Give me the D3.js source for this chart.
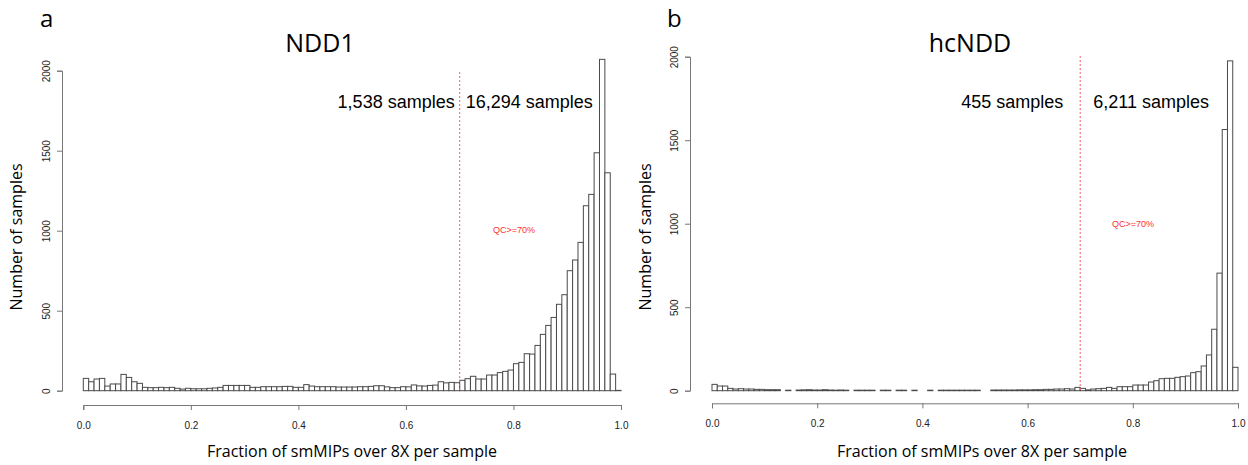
<!DOCTYPE html>
<html>
<head>
<meta charset="utf-8">
<script src="https://cdn.jsdelivr.net/npm/d3@7"></script>
<style>
  body { margin: 0; background: #fff; }
  svg { display: block; }
</style>
</head>
<body>
<svg id="chart" width="1248" height="465"></svg>
<script>
// histogram bins: 100 bins of width 0.01 from 0 to 1
var binEdges = d3.range(0, 100).map(function (i) { return i / 100; });

// panel a - NDD1 counts per bin
var ndd1Counts = [
  77, 56, 73, 77, 29, 42, 42, 102, 83, 56,
  46, 21, 19, 19, 21, 19, 21, 15, 10, 15,
  12, 12, 12, 15, 17, 21, 33, 33, 33, 33,
  33, 21, 21, 25, 25, 25, 25, 27, 27, 21,
  21, 38, 29, 25, 25, 25, 25, 23, 23, 23,
  23, 25, 25, 27, 31, 31, 24, 19, 19, 25,
  24, 36, 30, 29, 33, 35, 56, 49, 52, 50,
  65, 75, 90, 73, 73, 98, 98, 113, 121, 129,
  169, 177, 231, 229, 283, 352, 408, 458, 540, 600,
  750, 817, 927, 1156, 1227, 1487, 2071, 1362, 104, 2
];

// panel b - hcNDD counts per bin
var hcnddCounts = [
  38, 28, 28, 14, 10, 12, 10, 10, 8, 8,
  6, 6, 6, 0, 3, 0, 4, 5, 6, 4,
  4, 6, 4, 3, 4, 3, 0, 3, 3, 3,
  3, 0, 3, 3, 0, 3, 3, 0, 3, 0,
  0, 3, 0, 3, 3, 3, 3, 3, 3, 3,
  3, 0, 0, 4, 4, 4, 4, 4, 5, 5,
  5, 6, 6, 8, 8, 10, 10, 12, 10, 20,
  14, 5, 10, 12, 14, 20, 14, 24, 24, 24,
  34, 34, 34, 52, 60, 72, 74, 74, 80, 84,
  88, 108, 114, 148, 214, 368, 704, 1564, 1975, 140
];

var xTicks = [0, 0.2, 0.4, 0.6, 0.8, 1.0];
var yTicks = [0, 500, 1000, 1500, 2000];
var qcCut = 0.7;
var panelTitles = ["NDD1", "hcNDD"];
var panelLetters = ["a", "b"];
var belowLabels = ["1,538 samples", "455 samples"];
var aboveLabels = ["16,294 samples", "6,211 samples"];

var svg = d3.select("#chart");

var titleFont = "'Open Sans', 'DejaVu Sans', sans-serif";
var arialFont = "'Liberation Sans', Arial, sans-serif";
var tickFont = "'Liberation Sans Narrow', 'Liberation Sans', sans-serif";

drawPanel({
  counts: ndd1Counts, title: panelTitles[0], letter: panelLetters[0],
  below: belowLabels[0], above: aboveLabels[0],
  x0: 83.3, x1: 621, yZero: 390.7, yTop: 70.7, axisY: 405, yAxisX: 62,
  cutTop: 72, titleX: 320, letterX: 40, belowGap: 5, aboveGap: 6, qcX: 493, qcY: 233,
  ylabX: 22, xlabX: 352
});

drawPanel({
  counts: hcnddCounts, title: panelTitles[1], letter: panelLetters[1],
  below: belowLabels[1], above: aboveLabels[1],
  x0: 712, x1: 1238, yZero: 390.7, yTop: 56.7, axisY: 403.3, yAxisX: 690,
  cutTop: 56, titleX: 970, letterX: 667, belowGap: 17, aboveGap: 13, qcX: 1112, qcY: 227,
  ylabX: 651, xlabX: 982
});

function drawPanel (o) {
  var g = svg.append("g");

  var x = d3.scaleLinear().domain([0, 1]).range([o.x0, o.x1]);
  var y = d3.scaleLinear().domain([0, 2000]).range([o.yZero, o.yTop]);

  // bars
  g.selectAll("rect.bar")
    .data(o.counts)
    .enter()
    .append("rect")
    .attr("class", "bar")
    .attr("x", function (d, i) { return x(binEdges[i]); })
    .attr("width", function (d, i) { return x(binEdges[i] + 0.01) - x(binEdges[i]); })
    .attr("y", function (d) { return y(d); })
    .attr("height", function (d) { return y(0) - y(d); })
    .attr("fill", "#fff")
    .attr("stroke", "#4a4a4a")
    .attr("stroke-width", 1);

  // QC cutoff line
  g.append("line")
    .attr("x1", x(qcCut)).attr("x2", x(qcCut))
    .attr("y1", o.cutTop).attr("y2", y(0))
    .attr("stroke", "#ff5a5a")
    .attr("stroke-width", 1)
    .attr("stroke-dasharray", "2,2");

  // x axis
  var xAxis = g.append("g")
    .attr("transform", "translate(0," + o.axisY + ")")
    .call(d3.axisBottom(x).tickValues(xTicks).tickSize(5).tickPadding(12).tickFormat(d3.format(".1f")));
  xAxis.select(".domain").attr("stroke", "#777");
  xAxis.selectAll(".tick line").attr("stroke", "#777");
  xAxis.selectAll("text")
    .attr("font-family", tickFont)
    .attr("font-size", 10)
    .attr("fill", "#222");

  // y axis, labels turned like base R
  var yAxis = g.append("g")
    .attr("transform", "translate(" + o.yAxisX + ",0)")
    .call(d3.axisLeft(y).tickValues(yTicks).tickSize(5).tickFormat(d3.format("d")));
  yAxis.select(".domain").attr("stroke", "#777");
  yAxis.selectAll(".tick line").attr("stroke", "#777");
  yAxis.selectAll("text")
    .attr("transform", "rotate(-90)")
    .attr("x", 0)
    .attr("y", -12)
    .attr("dy", 0)
    .attr("text-anchor", "middle")
    .attr("font-family", tickFont)
    .attr("font-size", 10)
    .attr("fill", "#222");

  // titles
  g.append("text")
    .attr("x", o.titleX).attr("y", 52)
    .attr("text-anchor", "middle")
    .attr("font-family", titleFont)
    .attr("font-size", 25)
    .text(o.title);

  g.append("text")
    .attr("x", o.letterX).attr("y", 27)
    .attr("font-family", titleFont)
    .attr("font-size", 24)
    .text(o.letter);

  // axis titles
  g.append("text")
    .attr("x", o.xlabX).attr("y", 457)
    .attr("text-anchor", "middle")
    .attr("font-family", titleFont)
    .attr("font-size", 16)
    .text("Fraction of smMIPs over 8X per sample");

  g.append("text")
    .attr("transform", "translate(" + o.ylabX + ",237) rotate(-90)")
    .attr("text-anchor", "middle")
    .attr("font-family", titleFont)
    .attr("font-size", 16)
    .text("Number of samples");

  // sample counts either side of the cutoff
  g.append("text")
    .attr("x", x(qcCut) - o.belowGap).attr("y", 108)
    .attr("text-anchor", "end")
    .attr("font-family", arialFont)
    .attr("font-size", 18)
    .text(o.below);

  g.append("text")
    .attr("x", x(qcCut) + o.aboveGap).attr("y", 108)
    .attr("font-family", arialFont)
    .attr("font-size", 18)
    .text(o.above);

  g.append("text")
    .attr("x", o.qcX).attr("y", o.qcY)
    .attr("font-family", arialFont)
    .attr("font-size", 9)
    .attr("fill", "#ff3030")
    .text("QC>=70%");
}
</script>
</body>
</html>
